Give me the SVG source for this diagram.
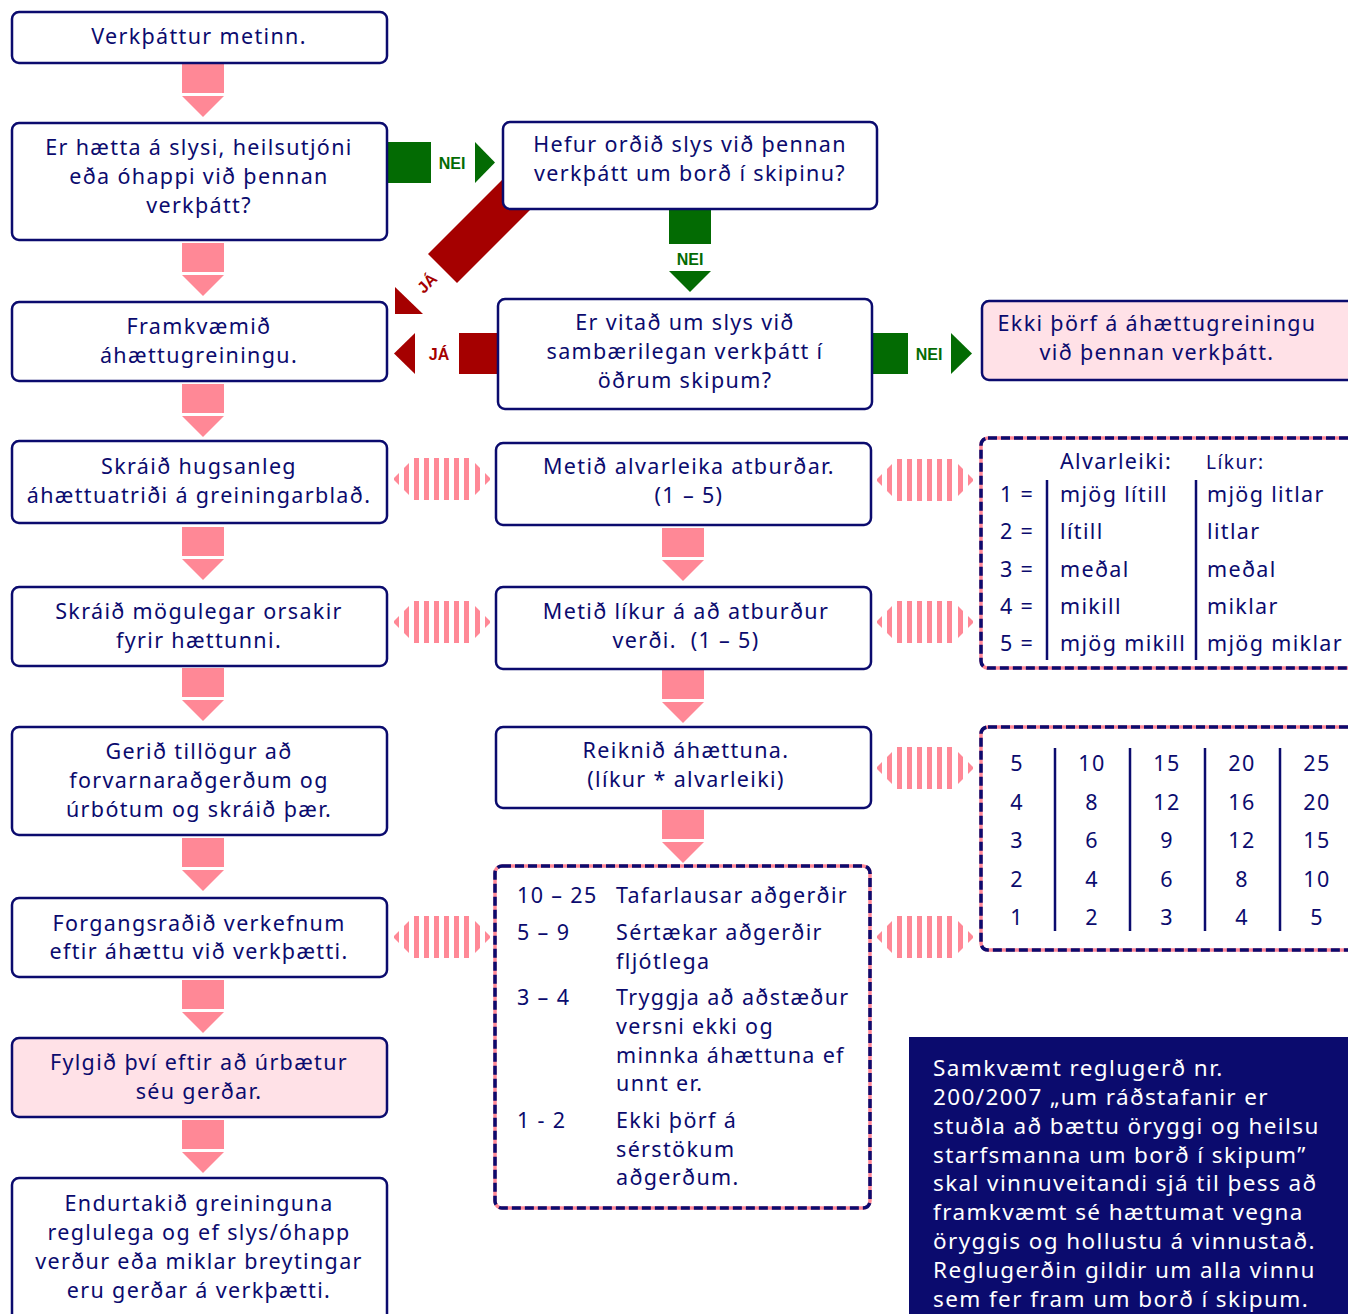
<svg xmlns="http://www.w3.org/2000/svg" width="1348" height="1314" viewBox="0 0 1348 1314">
<style>
text{font-family:"Noto Sans","DejaVu Sans",sans-serif;font-size:21.5px;fill:#0b0b6e;letter-spacing:1.35px}
.c{text-anchor:middle}
.box{fill:#fff;stroke:#0b0b6e;stroke-width:2.5}
.pbox{fill:#ffe1e7;stroke:#0b0b6e;stroke-width:2.5}
.dpink{fill:#fff;stroke:#ff8896;stroke-width:3.5}
.dnavy{fill:none;stroke:#0b0b6e;stroke-width:3.5;stroke-dasharray:9 4}
.pk{fill:#ff8896}
.gr{fill:#036b03}
.rd{fill:#a50000}
.lg{font-family:"Liberation Sans",Arial,sans-serif;font-weight:bold;font-size:16px;letter-spacing:0}
.vl{stroke:#0b0b6e;stroke-width:2.5}
.wt{fill:#fff;font-size:22.5px;letter-spacing:1.4px}
</style>
<defs>
<g id="down">
<rect x="0" y="0" width="42" height="29" class="pk"/>
<polygon points="0,32 42,32 21,53" class="pk"/>
</g>
<g id="stripe" class="pk">
<polygon points="1,-1 6,-6 6,6 1,1"/>
<polygon points="11,-11 16,-16 16,16 11,11"/>
<rect x="21" y="-21" width="5" height="42"/>
<rect x="31" y="-21" width="5" height="42"/>
<rect x="41" y="-21" width="5" height="42"/>
<rect x="51" y="-21" width="5" height="42"/>
<rect x="61" y="-21" width="5" height="42"/>
<rect x="71" y="-21" width="5" height="42"/>
<polygon points="82,-16 87,-11 87,11 82,16"/>
<polygon points="92,-6 97,-1 97,1 92,6"/>
</g>
</defs>

<g id="connectors">
<use href="#down" x="182" y="64"/>
<use href="#down" x="182" y="243"/>
<use href="#down" x="182" y="384"/>
<use href="#down" x="182" y="527"/>
<use href="#down" x="182" y="668"/>
<use href="#down" x="182" y="838"/>
<use href="#down" x="182" y="980"/>
<use href="#down" x="182" y="1120"/>
<use href="#down" x="662" y="528"/>
<use href="#down" x="662" y="670"/>
<use href="#down" x="662" y="810"/>
<!-- green NEI -->
<rect x="387" y="142" width="44" height="41" class="gr"/>
<text x="452" y="169" class="lg c" style="fill:#036b03">NEI</text>
<polygon points="475,142 495,162.5 475,183" class="gr"/>
<rect x="669" y="210" width="42" height="34" class="gr"/>
<text x="690" y="265" class="lg c" style="fill:#036b03">NEI</text>
<polygon points="669,271 711,271 690,292" class="gr"/>
<rect x="872" y="333" width="36" height="41" class="gr"/>
<text x="929" y="360" class="lg c" style="fill:#036b03">NEI</text>
<polygon points="951,333 972,353.5 951,374" class="gr"/>
<!-- red JÁ -->
<rect x="459" y="333" width="40" height="41" class="rd"/>
<text x="439" y="360" class="lg c" style="fill:#a50000">JÁ</text>
<polygon points="415,333 394,353.5 415,374" class="rd"/>
<polygon points="428,254 457,283 560,180 531,151" class="rd"/>
<text x="0" y="0" class="lg c" style="fill:#a50000" transform="translate(431,287) rotate(-45)">JÁ</text>
<polygon points="395,287 423,314 395,314" class="rd"/>
<!-- striped double arrows -->
<use href="#stripe" x="393" y="479"/>
<use href="#stripe" x="393" y="622"/>
<use href="#stripe" x="393" y="937"/>
<use href="#stripe" x="876" y="480"/>
<use href="#stripe" x="876" y="622"/>
<use href="#stripe" x="876" y="768"/>
<use href="#stripe" x="876" y="937"/>
</g>

<g id="n1"><rect x="12" y="12" width="375" height="51" rx="7" class="box"/>
<text x="199" y="44" class="c">Verkþáttur metinn.</text></g>
<g id="n2"><rect x="12" y="123" width="375" height="117" rx="7" class="box"/>
<text x="199" y="155" class="c">Er hætta á slysi, heilsutjóni</text>
<text x="199" y="184" class="c">eða óhappi við þennan</text>
<text x="199" y="213" class="c">verkþátt?</text></g>
<g id="n3"><rect x="12" y="302" width="375" height="79" rx="7" class="box"/>
<text x="199" y="334" class="c">Framkvæmið</text>
<text x="199" y="363" class="c">áhættugreiningu.</text></g>
<g id="n4"><rect x="12" y="441" width="375" height="82" rx="7" class="box"/>
<text x="199" y="474" class="c">Skráið hugsanleg</text>
<text x="199" y="503" class="c">áhættuatriði á greiningarblað.</text></g>
<g id="n5"><rect x="12" y="587" width="375" height="79" rx="7" class="box"/>
<text x="199" y="619" class="c">Skráið mögulegar orsakir</text>
<text x="199" y="648" class="c">fyrir hættunni.</text></g>
<g id="n6"><rect x="12" y="727" width="375" height="108" rx="7" class="box"/>
<text x="199" y="759" class="c">Gerið tillögur að</text>
<text x="199" y="788" class="c">forvarnaraðgerðum og</text>
<text x="199" y="817" class="c">úrbótum og skráið þær.</text></g>
<g id="n7"><rect x="12" y="898" width="375" height="79" rx="7" class="box"/>
<text x="199" y="931" class="c">Forgangsraðið verkefnum</text>
<text x="199" y="959" class="c">eftir áhættu við verkþætti.</text></g>
<g id="n8"><rect x="12" y="1038" width="375" height="79" rx="7" class="pbox"/>
<text x="199" y="1070" class="c">Fylgið því eftir að úrbætur</text>
<text x="199" y="1099" class="c">séu gerðar.</text></g>
<g id="n9"><rect x="12" y="1178" width="375" height="150" rx="7" class="box"/>
<text x="199" y="1211" class="c">Endurtakið greininguna</text>
<text x="199" y="1240" class="c">reglulega og ef slys/óhapp</text>
<text x="199" y="1269" class="c">verður eða miklar breytingar</text>
<text x="199" y="1298" class="c">eru gerðar á verkþætti.</text></g>

<g id="m1"><rect x="503" y="122" width="374" height="87" rx="7" class="box"/>
<text x="690" y="152" class="c">Hefur orðið slys við þennan</text>
<text x="690" y="181" class="c">verkþátt um borð í skipinu?</text></g>
<g id="m2"><rect x="498" y="299" width="374" height="110" rx="7" class="box"/>
<text x="685" y="330" class="c">Er vitað um slys við</text>
<text x="685" y="359" class="c">sambærilegan verkþátt í</text>
<text x="685" y="388" class="c">öðrum skipum?</text></g>
<g id="m3"><rect x="496" y="443" width="375" height="82" rx="7" class="box"/>
<text x="689" y="474" class="c">Metið alvarleika atburðar.</text>
<text x="689" y="503" class="c">(1 – 5)</text></g>
<g id="m4"><rect x="496" y="587" width="375" height="82" rx="7" class="box"/>
<text x="686" y="619" class="c">Metið líkur á að atburður</text>
<text x="686" y="648" class="c" xml:space="preserve">verði.  (1 – 5)</text></g>
<g id="m5"><rect x="496" y="727" width="375" height="81" rx="7" class="box"/>
<text x="686" y="758" class="c">Reiknið áhættuna.</text>
<text x="686" y="787" class="c">(líkur * alvarleiki)</text></g>
<g id="m6"><rect x="495" y="866" width="375" height="342" rx="7" class="dpink"/>
<rect x="495" y="866" width="375" height="342" rx="7" class="dnavy"/>
<text x="517" y="903">10 – 25</text><text x="616" y="903">Tafarlausar aðgerðir</text>
<text x="517" y="940">5 – 9</text><text x="616" y="940">Sértækar aðgerðir</text>
<text x="616" y="969">fljótlega</text>
<text x="517" y="1005">3 – 4</text><text x="616" y="1005">Tryggja að aðstæður</text>
<text x="616" y="1034">versni ekki og</text>
<text x="616" y="1063">minnka áhættuna ef</text>
<text x="616" y="1091">unnt er.</text>
<text x="517" y="1128">1 - 2</text><text x="616" y="1128">Ekki þörf á</text>
<text x="616" y="1157">sérstökum</text>
<text x="616" y="1185">aðgerðum.</text></g>

<g id="r1"><rect x="982" y="301" width="380" height="79" rx="7" class="pbox"/>
<text x="1157" y="331" class="c">Ekki þörf á áhættugreiningu</text>
<text x="1157" y="360" class="c">við þennan verkþátt.</text></g>
<g id="r2"><rect x="981" y="438" width="380" height="230" rx="7" class="dpink"/>
<rect x="981" y="438" width="380" height="230" rx="7" class="dnavy"/>
<text x="1060" y="469">Alvarleiki:</text>
<text x="1206" y="469" style="font-size:19px;letter-spacing:1.5px">Líkur:</text>
<line x1="1047" y1="480" x2="1047" y2="660" class="vl"/>
<line x1="1196" y1="480" x2="1196" y2="660" class="vl"/>
<text x="1000" y="502">1 =</text><text x="1060" y="502">mjög lítill</text><text x="1207" y="502">mjög litlar</text>
<text x="1000" y="539">2 =</text><text x="1060" y="539">lítill</text><text x="1207" y="539">litlar</text>
<text x="1000" y="577">3 =</text><text x="1060" y="577">meðal</text><text x="1207" y="577">meðal</text>
<text x="1000" y="614">4 =</text><text x="1060" y="614">mikill</text><text x="1207" y="614">miklar</text>
<text x="1000" y="651">5 =</text><text x="1060" y="651">mjög mikill</text><text x="1207" y="651">mjög miklar</text></g>
<g id="r3"><rect x="981" y="727" width="380" height="223" rx="7" class="dpink"/>
<rect x="981" y="727" width="380" height="223" rx="7" class="dnavy"/>
<line x1="1055" y1="748" x2="1055" y2="931" class="vl"/>
<line x1="1130" y1="748" x2="1130" y2="931" class="vl"/>
<line x1="1205" y1="748" x2="1205" y2="931" class="vl"/>
<line x1="1280" y1="748" x2="1280" y2="931" class="vl"/>
<g style="letter-spacing:0.5px">
<text x="1017" y="771" class="c">5</text><text x="1092" y="771" class="c">10</text><text x="1167" y="771" class="c">15</text><text x="1242" y="771" class="c">20</text><text x="1317" y="771" class="c">25</text>
<text x="1017" y="810" class="c">4</text><text x="1092" y="810" class="c">8</text><text x="1167" y="810" class="c">12</text><text x="1242" y="810" class="c">16</text><text x="1317" y="810" class="c">20</text>
<text x="1017" y="848" class="c">3</text><text x="1092" y="848" class="c">6</text><text x="1167" y="848" class="c">9</text><text x="1242" y="848" class="c">12</text><text x="1317" y="848" class="c">15</text>
<text x="1017" y="887" class="c">2</text><text x="1092" y="887" class="c">4</text><text x="1167" y="887" class="c">6</text><text x="1242" y="887" class="c">8</text><text x="1317" y="887" class="c">10</text>
<text x="1017" y="925" class="c">1</text><text x="1092" y="925" class="c">2</text><text x="1167" y="925" class="c">3</text><text x="1242" y="925" class="c">4</text><text x="1317" y="925" class="c">5</text>
</g></g>

<g id="r4"><rect x="909" y="1037" width="450" height="290" style="fill:#0b0b6e"/>
<text x="933" y="1076" class="wt">Samkvæmt reglugerð nr.</text>
<text x="933" y="1105" class="wt">200/2007 „um ráðstafanir er</text>
<text x="933" y="1134" class="wt">stuðla að bættu öryggi og heilsu</text>
<text x="933" y="1163" class="wt">starfsmanna um borð í skipum”</text>
<text x="933" y="1191" class="wt">skal vinnuveitandi sjá til þess að</text>
<text x="933" y="1220" class="wt">framkvæmt sé hættumat vegna</text>
<text x="933" y="1249" class="wt">öryggis og hollustu á vinnustað.</text>
<text x="933" y="1278" class="wt">Reglugerðin gildir um alla vinnu</text>
<text x="933" y="1307" class="wt">sem fer fram um borð í skipum.</text></g>
</svg>
